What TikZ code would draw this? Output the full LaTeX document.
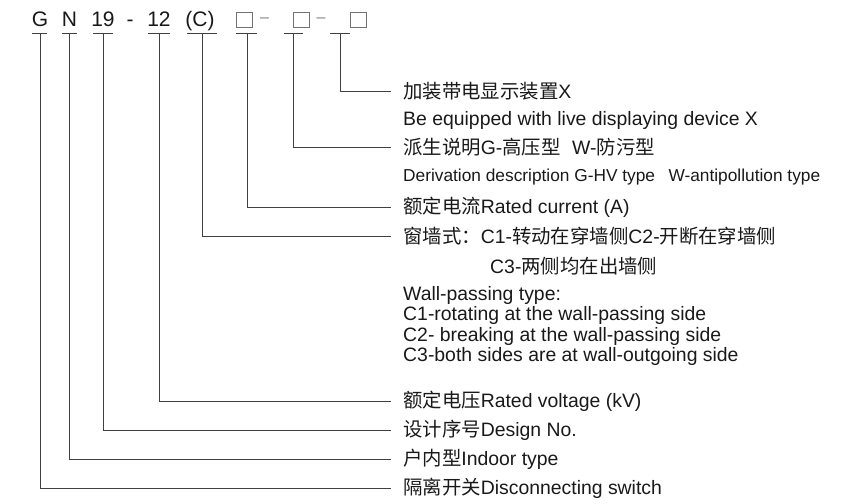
\documentclass[tikz,border=0pt]{standalone}
\usepackage{fontspec}
\setmainfont{Liberation Sans}
\newfontfamily\cjk{Noto Sans CJK SC}
\usetikzlibrary{positioning}

\begin{document}
\begin{tikzpicture}[
    x=1pt, y=-1pt,
    % 型号字符
    code/.style={font=\fontsize{21}{21}\selectfont, text=black!90, inner sep=0pt, anchor=base},
    % 空白方框
    blank/.style={draw=black!55, line width=0.7pt, minimum width=16pt, minimum height=15pt, inner sep=0pt},
    % 方框后的短横
    sepbar/.style={font=\fontsize{16}{16}\selectfont, text=black!50, inner sep=0pt, anchor=base},
    % 说明文字
    desc/.style={font=\fontsize{19.4}{20.4}\selectfont, text=black!90, inner sep=0pt, anchor=west, align=left},
    small/.style={desc, font=\fontsize{17.3}{18}\selectfont},
    % 引出线
    lead/.style={draw=black!75, line width=0.9pt}
]
\useasboundingbox (0,0) rectangle (858,503);

% 型号
\node[code] (g) at (40,27) {G};
\node[code] (n) at (69.5,27) {N};
\node[code] (d19) at (103,27) {19};
\node[code] (hy) at (130,27) {-};
\node[code] (v12) at (159,27) {12};
\node[code] (c) at (200,27) {(C)};
\node[blank] (s1) at (244.5,19.5) {};
\node[sepbar] (h1) at (264.5,22.5) {–};
\node[blank] (s2) at (301.5,19.5) {};
\node[sepbar] (h2) at (321,22.5) {–};
\node[blank] (s3) at (358.5,19.5) {};

% 下划线
\coordinate (u-g) at (40.5,33);
\coordinate (u-n) at (69.5,33);
\coordinate (u-d19) at (103,33);
\coordinate (u-v12) at (159,33);
\coordinate (u-c) at (202,33);
\coordinate (u-s1) at (247,33);
\coordinate (u-s2) at (293,33);
\coordinate (u-s3) at (340,33);
\draw[lead] ([xshift=-8.5pt]u-g) -- ([xshift=6.5pt]u-g);
\draw[lead] ([xshift=-8pt]u-n) -- ([xshift=7pt]u-n);
\draw[lead] ([xshift=-10pt]u-d19) -- ([xshift=10pt]u-d19);
\draw[lead] ([xshift=-11pt]u-v12) -- ([xshift=11pt]u-v12);
\draw[lead] ([xshift=-15pt]u-c) -- ([xshift=15pt]u-c);
\draw[lead] ([xshift=-11pt]u-s1) -- ([xshift=10pt]u-s1);
\draw[lead] ([xshift=-9pt]u-s2) -- ([xshift=10pt]u-s2);
\draw[lead] ([xshift=-10pt]u-s3) -- ([xshift=10pt]u-s3);

% 说明
\node[desc] (t-s3) at (403,91) {{\cjk 加装带电显示装置}X};
\node[desc] (e-s3) at (403,120) {Be equipped with live displaying device X};
\node[desc] (t-s2) at (403,147) {{\cjk 派生说明}G-{\cjk 高压型}\hspace{0.6em}W-{\cjk 防污型}};
\node[small] (e-s2) at (403,177) {Derivation description G-HV type\hspace{0.5em} W-antipollution type};
\node[desc] (t-s1) at (403,207) {{\cjk 额定电流}Rated current (A)};
\node[desc] (t-c) at (403,236) {{\cjk 窗墙式：}C1-{\cjk 转动在穿墙侧}C2-{\cjk 开断在穿墙侧}};
\node[desc] (t-c3) at (490,266) {C3-{\cjk 两侧均在出墙侧}};
\node[desc, anchor=north west] (e-c) at (403,286) {Wall-passing type:\\C1-rotating at the wall-passing side\\C2- breaking at the wall-passing side\\C3-both sides are at wall-outgoing side};
\node[desc] (t-v12) at (403,401) {{\cjk 额定电压}Rated voltage (kV)};
\node[desc] (t-d19) at (403,430) {{\cjk 设计序号}Design No.};
\node[desc] (t-n) at (403,459) {{\cjk 户内型}Indoor type};
\node[desc] (t-g) at (403,488) {{\cjk 隔离开关}Disconnecting switch};

% 引出线
\draw[lead] (u-s3) |- ([xshift=-12pt]t-s3.west);
\draw[lead] (u-s2) |- ([xshift=-12pt]t-s2.west);
\draw[lead] (u-s1) |- ([xshift=-12pt]t-s1.west);
\draw[lead] (u-c) |- ([xshift=-12pt]t-c.west);
\draw[lead] (u-v12) |- ([xshift=-12pt]t-v12.west);
\draw[lead] (u-d19) |- ([xshift=-12pt]t-d19.west);
\draw[lead] (u-n) |- ([xshift=-12pt]t-n.west);
\draw[lead] (u-g) |- ([xshift=-12pt]t-g.west);

\end{tikzpicture}
\end{document}
